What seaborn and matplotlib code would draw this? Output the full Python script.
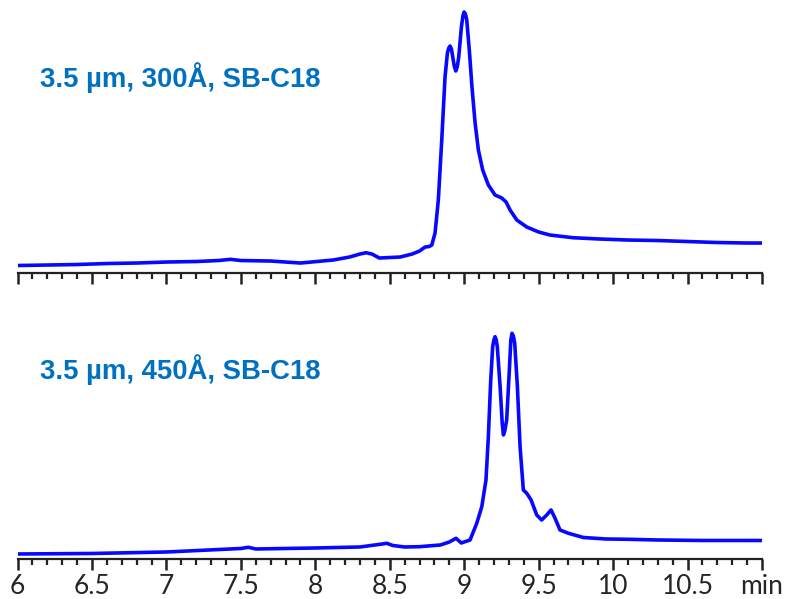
import numpy as np
import pandas as pd
import matplotlib
matplotlib.use("Agg")
import matplotlib.pyplot as plt
from matplotlib.ticker import MultipleLocator
import seaborn as sns

# Chromatogram traces (time in min, signal in arbitrary units)
time_300 = [6.00, 6.20, 6.40, 6.60, 6.80, 7.00, 7.20, 7.35, 7.43, 7.50, 7.70, 7.90,
            8.12, 8.23, 8.30, 8.34, 8.38, 8.43, 8.50, 8.57, 8.65, 8.70, 8.737, 8.765,
            8.782, 8.804, 8.826, 8.849, 8.871, 8.887, 8.896, 8.905, 8.914, 8.923,
            8.933, 8.943, 8.953, 8.963, 8.981, 8.991, 8.999, 9.008, 9.017, 9.034,
            9.052, 9.073, 9.095, 9.124, 9.162, 9.207, 9.252, 9.281, 9.308, 9.353,
            9.42, 9.50, 9.576, 9.73, 9.91, 10.10, 10.30, 10.50, 10.70, 10.90, 11.00]
signal_300 = [7.5, 8.0, 8.5, 9.5, 10.0, 11.0, 11.5, 12.5, 13.7, 12.5, 12.0, 10.0,
              13.0, 16.0, 19.0, 20.3, 19.0, 15.0, 15.5, 16.0, 19.0, 22.0, 26.0, 26.5,
              28.0, 40.0, 73.0, 133.0, 196.0, 220.0, 225.0, 227.0, 224.0, 216.0,
              207.0, 202.0, 206.0, 216.0, 246.0, 257.0, 261.0, 259.0, 253.0, 223.0,
              186.0, 150.0, 123.0, 103.0, 88.0, 78.0, 75.0, 71.0, 63.0, 53.0,
              46.0, 41.0, 38.0, 35.3, 34.0, 33.0, 32.5, 31.5, 30.5, 30.0, 30.0]

time_450 = [6.00, 6.50, 7.00, 7.50, 7.55, 7.60, 8.00, 8.30, 8.45, 8.48, 8.52, 8.60,
            8.70, 8.84, 8.90, 8.945, 8.98, 9.039, 9.084, 9.118, 9.146, 9.162, 9.178,
            9.191, 9.199, 9.207, 9.215, 9.222, 9.241, 9.255, 9.263, 9.272, 9.285,
            9.303, 9.313, 9.321, 9.33, 9.339, 9.357, 9.375, 9.397, 9.42, 9.449,
            9.487, 9.52, 9.554, 9.583, 9.61, 9.643, 9.70, 9.80, 9.95, 10.10, 10.30,
            10.60, 10.80, 11.00]
signal_450 = [5.0, 5.5, 7.0, 10.5, 11.7, 10.0, 11.0, 12.0, 15.0, 15.7, 13.5, 12.0,
              12.3, 14.0, 17.0, 20.7, 16.0, 19.0, 35.7, 52.3, 79.0, 122.3, 179.0,
              212.3, 219.0, 222.3, 219.0, 212.3, 172.3, 136.0, 124.0, 128.0, 139.0,
              189.0, 219.0, 225.7, 223.0, 215.7, 172.3, 112.3, 69.0, 65.7, 59.0,
              44.0, 39.0, 44.0, 49.0, 40.7, 29.0, 25.7, 21.5, 20.0, 19.7, 19.0,
              18.5, 18.5, 18.5]

labels = ["3.5 µm, 300Å, SB-C18", "3.5 µm, 450Å, SB-C18"]
label_height = [195, 189]
tick_values = [6, 6.5, 7, 7.5, 8, 8.5, 9, 9.5, 10, 10.5, 11]
tick_labels = ["6", "6.5", "7", "7.5", "8", "8.5", "9", "9.5", "10", "10.5", "min"]

df_300 = pd.DataFrame({"time": time_300, "signal": signal_300})
df_450 = pd.DataFrame({"time": time_450, "signal": signal_450})

sns.set_style("white")
plt.rcParams["font.family"] = ["Lato", "DejaVu Sans"]

fig = plt.figure(figsize=(7.9, 5.99), dpi=100)
ax_top = fig.add_axes([0.0222, 0.5442, 0.9424, 0.4558])
ax_bot = fig.add_axes([0.0222, 0.0668, 0.9424, 0.4491])

panels = [(ax_top, df_300, labels[0], 273, label_height[0]),
          (ax_bot, df_450, labels[1], 269, label_height[1])]
for ax, df, label, ytop, ylab in panels:
    sns.lineplot(data=df, x="time", y="signal", ax=ax, color="#0808ff", lw=2.6)
    ax.set_xlim(6, 11)
    ax.set_ylim(0, ytop)
    for s in ["top", "left", "right"]:
        ax.spines[s].set_visible(False)
    ax.spines["bottom"].set_linewidth(1.6)
    ax.spines["bottom"].set_color("#222222")
    ax.set_yticks([])
    ax.set_xticks(tick_values)
    ax.xaxis.set_minor_locator(MultipleLocator(0.1))
    ax.tick_params(axis="x", which="major", direction="out", length=8, width=1.8,
                   color="#222222", bottom=True)
    ax.tick_params(axis="x", which="minor", direction="out", length=4, width=1.6,
                   color="#222222", bottom=True)
    ax.set_xlabel("")
    ax.set_ylabel("")
    ax.text(6.15, ylab, label, color="#0070C0", family="Liberation Sans",
            fontsize=19.8, fontweight="bold", va="center", ha="left")
    ax.patch.set_alpha(0)

ax_top.set_xticklabels([])
ax_bot.set_xticklabels(tick_labels, fontsize=19)
ax_bot.tick_params(axis="x", which="major", pad=3)

fig.savefig("out.png", dpi=100)
